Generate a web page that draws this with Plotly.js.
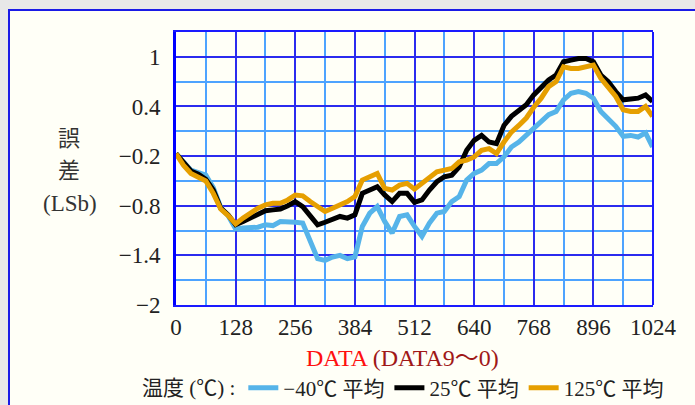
<!DOCTYPE html>
<html>
<head>
<meta charset="utf-8">
<script src="https://cdn.plot.ly/plotly-3.0.1.min.js"></script>
<style>html,body{margin:0;padding:0;background:#e8e8e8;}#chart{width:695px;height:405px;}</style>
</head>
<body>
<div id="chart"></div>
<script>
// DATA code (x) sampled every 16 codes
const codes = [0,16,32,48,64,80,96,112,128,144,160,176,192,208,224,240,256,272,288,304,320,336,352,368,384,400,416,432,448,464,480,496,512,528,544,560,576,592,608,624,640,656,672,688,704,720,736,752,768,784,800,816,832,848,864,880,896,912,928,944,960,976,992,1008,1023];
// Error (LSb), -40°C average
const errMinus40 = [-0.17,-0.28,-0.37,-0.40,-0.43,-0.58,-0.82,-0.92,-1.08,-1.07,-1.07,-1.06,-1.03,-1.04,-0.99,-0.99,-1.00,-1.01,-1.21,-1.44,-1.46,-1.42,-1.40,-1.44,-1.42,-1.05,-0.89,-0.81,-0.99,-1.13,-0.93,-0.91,-1.05,-1.17,-1.01,-0.89,-0.87,-0.75,-0.69,-0.49,-0.41,-0.37,-0.29,-0.29,-0.21,-0.09,-0.03,0.05,0.14,0.20,0.30,0.34,0.48,0.56,0.58,0.56,0.50,0.34,0.26,0.16,0.04,0.05,0.03,0.08,-0.09];
// Error (LSb), 25°C average
const err25 = [-0.17,-0.28,-0.38,-0.42,-0.48,-0.61,-0.83,-0.91,-1.03,-0.99,-0.95,-0.90,-0.86,-0.85,-0.84,-0.80,-0.75,-0.81,-0.93,-1.03,-1.00,-0.97,-0.93,-0.95,-0.91,-0.65,-0.61,-0.57,-0.67,-0.75,-0.65,-0.65,-0.76,-0.73,-0.61,-0.51,-0.45,-0.43,-0.33,-0.13,-0.01,0.05,-0.03,-0.05,0.17,0.28,0.35,0.42,0.54,0.64,0.72,0.78,0.94,0.96,0.98,0.98,0.94,0.78,0.70,0.58,0.48,0.49,0.50,0.54,0.46];
// Error (LSb), 125°C average
const err125 = [-0.17,-0.31,-0.41,-0.45,-0.50,-0.65,-0.84,-0.92,-1.02,-0.95,-0.89,-0.83,-0.79,-0.77,-0.77,-0.73,-0.67,-0.68,-0.75,-0.81,-0.87,-0.83,-0.79,-0.75,-0.69,-0.49,-0.45,-0.41,-0.59,-0.61,-0.55,-0.53,-0.60,-0.53,-0.47,-0.39,-0.37,-0.35,-0.27,-0.25,-0.21,-0.13,-0.11,-0.17,-0.03,0.09,0.17,0.26,0.39,0.50,0.64,0.70,0.88,0.86,0.86,0.88,0.90,0.74,0.64,0.52,0.36,0.34,0.34,0.40,0.28];

const seriesNames = ["\u221240\u2103 平均", "25\u2103 平均", "125\u2103 平均"];
const seriesColors = ["#56b4e9", "#000000", "#e69f00"];
const xTickVals = [0,128,256,384,512,640,768,896,1024];
const yTickVals = [-2,-1.4,-0.8,-0.2,0.4,1];
const yTickText = ["\u22122","\u22121.4","\u22120.8","\u22120.2","0.4","1"];

const serif = "Liberation Serif, Noto Sans CJK JP, serif";
const cjk = "Noto Sans CJK JP, sans-serif";

const allY = [errMinus40, err25, err125];
const traces = allY.map((ys, i) => ({
  x: codes, y: ys, type: "scatter", mode: "lines",
  name: seriesNames[i],
  line: {color: seriesColors[i], width: 5}
}));

const majorGrid = "#2b2bef", minorGrid = "#4da3ff";

const layout = {
  width: 695, height: 405,
  margin: {l: 176, r: 42, t: 32, b: 100, autoexpand: false},
  paper_bgcolor: "#e8e8e8",
  plot_bgcolor: "#fffff7",
  showlegend: true,
  xaxis: {
    range: [0, 1024], tickmode: "array", tickvals: xTickVals,
    ticktext: xTickVals.map(String),
    showgrid: true, gridcolor: majorGrid, gridwidth: 2,
    minor: {tickmode: "linear", tick0: 0, dtick: 64, showgrid: true, gridcolor: minorGrid, gridwidth: 2},
    showline: true, linecolor: "#1a1aff", linewidth: 2, mirror: true,
    zeroline: false, ticks: "", ticklabelstandoff: 0,
    tickfont: {family: serif, size: 23, color: "#222"}
  },
  yaxis: {
    range: [-2, 1.3], tickmode: "array", tickvals: yTickVals, ticktext: yTickText,
    showgrid: true, gridcolor: majorGrid, gridwidth: 2,
    minor: {tickmode: "linear", tick0: -2, dtick: 0.3, showgrid: true, gridcolor: minorGrid, gridwidth: 2},
    showline: true, linecolor: "#0000ff", linewidth: 3,
    zeroline: false, ticks: "", ticklabelstandoff: 8,
    tickfont: {family: serif, size: 23, color: "#222"}
  },
  legend: {
    orientation: "h", x: -0.0755, xanchor: "left", y: -0.304, yanchor: "middle",
    bgcolor: "rgba(0,0,0,0)", font: {family: serif, size: 21, color: "#222"},
    title: {text: "温度 (\u2103) :", side: "left", font: {family: serif, size: 21, color: "#222"}},
    itemwidth: 30, tracegroupgap: 0
  },
  shapes: [
    {type: "rect", xref: "paper", yref: "paper", x0: -0.3501, x1: 1.2, y0: -0.5, y1: 1.0806,
     fillcolor: "#fffff7", line: {color: "#1a1ae6", width: 2}, layer: "below"},
    {type: "line", xref: "paper", yref: "paper", x0: 1, x1: 1, y0: 0, y1: 1,
     line: {color: "#1a1aff", width: 2}, layer: "above"}
  ],
  annotations: [
    {xref: "paper", yref: "paper", x: 0.474, y: -0.194, xanchor: "center", yanchor: "middle", showarrow: false,
     text: '<span style="color:#ff1010">DATA</span> <span style="color:#a01818">(DATA9～0)</span>',
     font: {family: serif, size: 24}},
    {xref: "paper", yref: "paper", x: -0.2243, y: 0.6190, xanchor: "center", yanchor: "middle", showarrow: false,
     text: "誤", font: {family: cjk, size: 22, color: "#333"}},
    {xref: "paper", yref: "paper", x: -0.2243, y: 0.5018, xanchor: "center", yanchor: "middle", showarrow: false,
     text: "差", font: {family: cjk, size: 22, color: "#333"}},
    {xref: "paper", yref: "paper", x: -0.2222, y: 0.3736, xanchor: "center", yanchor: "middle", showarrow: false,
     text: "(LSb)", font: {family: serif, size: 23, color: "#333"}}
  ]
};

Plotly.newPlot("chart", traces, layout, {displayModeBar: false, staticPlot: true});
</script>
</body>
</html>
